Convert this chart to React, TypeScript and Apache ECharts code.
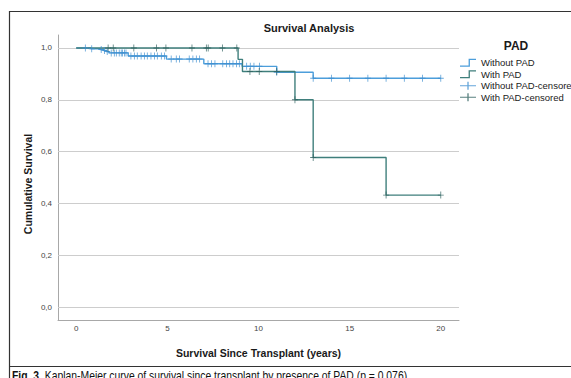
import React, { useEffect, useRef } from "react";
import * as echarts from "echarts";

// Kaplan-Meier step data (time in years, cumulative survival)
const withoutPadTimes = [0, 0.8, 1.3, 1.5, 1.65, 1.8, 2.85, 4.95, 7.0, 9.1, 11.0, 13.0, 20.0];
const withoutPadSurvival = [1.0, 0.997, 0.994, 0.99, 0.986, 0.981, 0.969, 0.957, 0.939, 0.929, 0.906, 0.883, 0.883];
const withPadTimes = [0, 8.88, 9.12, 12.0, 13.0, 17.0, 20.0];
const withPadSurvival = [1.0, 0.956, 0.909, 0.8, 0.577, 0.432, 0.432];

// Censoring times
const withoutPadCensoredTimes = [
  0.5, 0.85, 1.37, 1.55, 1.7, 1.92, 2.09, 2.2, 2.36, 2.47, 2.54, 2.65, 2.73,
  3.0, 3.19, 3.35, 3.56, 3.74, 3.9, 4.1, 4.29, 4.45, 4.67, 4.84,
  5.21, 5.49, 5.67, 6.2, 6.4, 6.59, 6.77,
  7.23, 7.42, 7.61, 8.04, 8.24, 8.42, 8.6, 8.79, 8.95,
  9.35, 9.55, 9.75, 10.05, 11.0,
  13, 14, 15, 16, 17, 18, 19, 20,
];
const withPadCensoredTimes = [1.75, 2.03, 3.16, 4.4, 4.92, 6.35, 7.14, 7.24, 8.02, 8.81, 9.53, 10.04, 11.0, 12.0, 13.0, 17.0, 20.0];

const xTicks = [0, 5, 10, 15, 20];
const yTicks = [0, 0.2, 0.4, 0.6, 0.8, 1.0];

const seriesNames = ["Without PAD", "With PAD", "Without PAD-censored", "With PAD-censored"];

function survivalAt(times: number[], surv: number[], t: number): number {
  let s = surv[0];
  for (let i = 0; i < times.length; i++) {
    if (times[i] <= t + 1e-9) s = surv[i];
  }
  return s;
}

const BLUE = "#4c9edb";
const BLUE_MARK = "#3d8fd0";
const GREEN = "#3f7f7c";
const GREEN_MARK = "#2f625f";
const FONT = '"Liberation Sans", Arial, sans-serif';

const stepIcon = "path://M0,6.7L8.6,6.7L8.6,0L16,0L16,1.3L9.9,1.3L9.9,8L0,8Z";
const plusIcon = "path://M0,3.4H7.35V0H8.65V3.4H16V4.6H8.65V8H7.35V4.6H0Z";
const plusSymbol = "path://M4.3,0H5.7V4.3H10V5.7H5.7V10H4.3V5.7H0V4.3H4.3Z";

export default function App() {
  const ref = useRef<HTMLDivElement>(null);

  useEffect(() => {
    document.body.style.margin = "0";
    if (!ref.current) return;
    const chart = echarts.init(ref.current, undefined, { renderer: "svg" });

    const withoutLine = withoutPadTimes.map((t, i) => [t, withoutPadSurvival[i]]);
    const withLine = withPadTimes.map((t, i) => [t, withPadSurvival[i]]);
    const withoutCens = withoutPadCensoredTimes.map((t) => [t, survivalAt(withoutPadTimes, withoutPadSurvival, t)]);
    const withCens = withPadCensoredTimes.map((t) => [t, survivalAt(withPadTimes, withPadSurvival, t)]);

    chart.setOption({
      animation: false,
      grid: { left: 58, top: 35, width: 401, height: 285, containLabel: false },
      xAxis: {
        type: "value",
        min: -1,
        max: 21,
        axisLine: { show: true, onZero: false, lineStyle: { color: "#a8a8a8", width: 1 } },
        axisTick: { show: false },
        splitLine: { show: false },
        axisLabel: { customValues: xTicks, fontSize: 8, color: "#444", margin: 4, fontFamily: FONT },
        name: "Survival Since Transplant (years)",
        nameLocation: "middle",
        nameGap: 27,
        nameTextStyle: { fontWeight: "bold", fontSize: 10.5, color: "#1a1a1a", fontFamily: FONT },
      },
      yAxis: {
        type: "value",
        min: -0.05,
        max: 1.05,
        axisLine: { show: true, onZero: false, lineStyle: { color: "#a8a8a8", width: 1 } },
        axisTick: { show: false },
        splitLine: { show: false },
        axisLabel: {
          customValues: yTicks,
          fontSize: 8,
          color: "#444",
          margin: 6,
          fontFamily: FONT,
          formatter: (v: number) => v.toFixed(1).replace(".", ","),
        },
      },
      legend: {
        orient: "vertical",
        left: 460,
        top: 57,
        itemWidth: 16,
        itemHeight: 8,
        itemGap: 0,
        padding: 0,
        selectedMode: false,
        itemStyle: { borderWidth: 0 },
        textStyle: { fontSize: 9.5, color: "#1a1a1a", lineHeight: 11.5, fontFamily: FONT },
        data: [
          { name: seriesNames[0], icon: stepIcon },
          { name: seriesNames[1], icon: stepIcon },
          { name: seriesNames[2], icon: plusIcon },
          { name: seriesNames[3], icon: plusIcon },
        ],
      },
      graphic: [
        {
          type: "rect",
          shape: { x: 9.5, y: 11.5, width: 700, height: 500 },
          style: { fill: "none", stroke: "#333", lineWidth: 1.2 },
          silent: true,
        },
        {
          type: "line",
          shape: { x1: 9.5, y1: 366.5, x2: 700, y2: 366.5 },
          style: { stroke: "#333", lineWidth: 1.2 },
          silent: true,
        },
        {
          type: "text",
          x: 309,
          y: 28,
          style: { text: "Survival Analysis", align: "center", verticalAlign: "middle", font: `bold 11px ${FONT}`, fill: "#1a1a1a" },
        },
        {
          type: "text",
          x: 516,
          y: 46,
          style: { text: "PAD", align: "center", verticalAlign: "middle", font: `bold 12px ${FONT}`, fill: "#1a1a1a" },
        },
        {
          type: "text",
          x: 28,
          y: 184,
          rotation: Math.PI / 2,
          style: { text: "Cumulative Survival", align: "center", verticalAlign: "middle", font: `bold 10.5px ${FONT}`, fill: "#1a1a1a" },
        },
        {
          type: "text",
          x: 12,
          y: 369,
          scaleX: 0.83,
          style: {
            text: "{b|Fig. 3.} Kaplan-Meier curve of survival since transplant by presence of PAD (p = 0.076).",
            verticalAlign: "top",
            font: `12.5px ${FONT}`,
            fill: "#111",
            rich: { b: { fontWeight: "bold", fontSize: 12.5, fontFamily: FONT, fill: "#111" } },
          },
        },
      ],
      series: [
        {
          name: seriesNames[0],
          type: "line",
          step: "end",
          showSymbol: false,
          data: withoutLine,
          color: BLUE,
          lineStyle: { color: BLUE, width: 1.4 },
          z: 2,
          markLine: {
            silent: true,
            symbol: "none",
            z: 1,
            label: { show: false },
            lineStyle: { color: "#cdcdcd", width: 1, type: "solid" },
            data: yTicks.map((v) => ({ yAxis: v })),
          },
        },
        {
          name: seriesNames[1],
          type: "line",
          step: "end",
          showSymbol: false,
          data: withLine,
          color: GREEN,
          lineStyle: { color: GREEN, width: 1.4 },
          z: 3,
        },
        {
          name: seriesNames[2],
          type: "scatter",
          symbol: plusSymbol,
          symbolSize: [6, 7],
          data: withoutCens,
          color: BLUE_MARK,
          itemStyle: { color: BLUE_MARK },
          z: 4,
        },
        {
          name: seriesNames[3],
          type: "scatter",
          symbol: plusSymbol,
          symbolSize: [6, 7],
          data: withCens,
          color: GREEN_MARK,
          itemStyle: { color: GREEN_MARK },
          z: 5,
        },
      ],
    });

    return () => chart.dispose();
  }, []);

  return <div ref={ref} style={{ width: 571, height: 378 }} />;
}
